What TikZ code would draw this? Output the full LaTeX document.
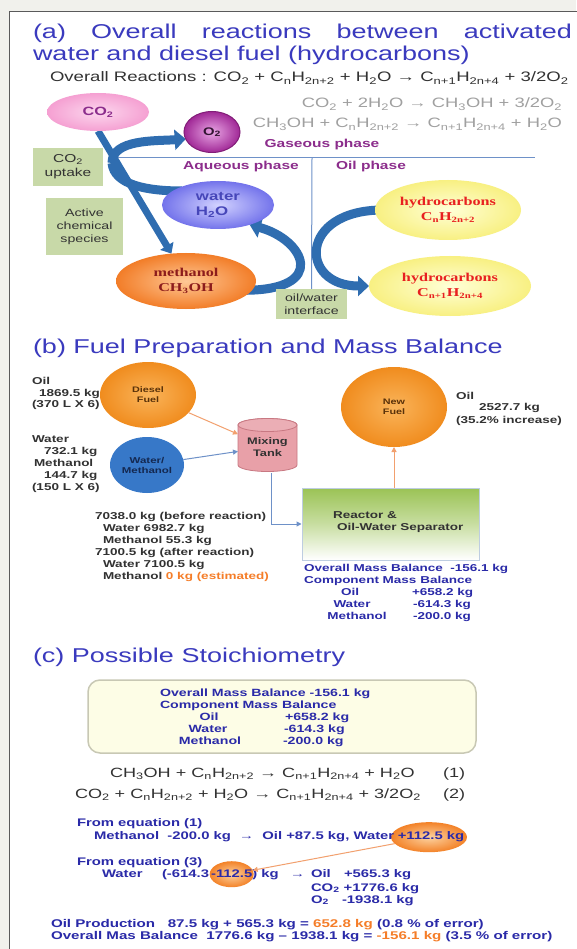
\documentclass[tikz,border=0pt]{standalone}
\usepackage{fontspec}
\setmainfont{Liberation Sans}[FakeStretch=1.35]
\newfontfamily\serifw{Liberation Serif}[FakeStretch=1.35]
\usetikzlibrary{arrows.meta,shapes.geometric,calc}
\pgfdeclarelayer{back}
\pgfdeclarelayer{mid}
\pgfsetlayers{back,mid,main}
\newcommand\chsub[1]{\textsubscript{#1}}
\newcommand\fsz[2]{\fontsize{#1}{#2}\selectfont}
\definecolor{bggray}{RGB}{241,241,236}
\definecolor{framegray}{RGB}{90,90,90}
\definecolor{ttlblue}{RGB}{58,58,190}
\definecolor{mbblue}{RGB}{42,42,168}
\definecolor{purp}{RGB}{140,45,140}
\definecolor{arrblue}{RGB}{47,109,176}
\definecolor{grn}{RGB}{200,217,168}
\definecolor{grayeq}{RGB}{160,160,160}
\definecolor{dtext}{RGB}{50,50,50}
\definecolor{hcred}{RGB}{232,32,32}
\definecolor{methred}{RGB}{140,28,28}
\definecolor{orngtxt}{RGB}{245,125,40}
\definecolor{lineblue}{RGB}{110,145,200}
\definecolor{orline}{RGB}{242,160,110}
\definecolor{tankpink}{RGB}{232,160,168}
\definecolor{tankedge}{RGB}{200,120,130}
\definecolor{reactgrn}{RGB}{155,195,85}
\definecolor{reactedge}{RGB}{190,205,225}
\definecolor{boxyel}{RGB}{253,253,230}
\definecolor{boxedge}{RGB}{200,200,180}
\definecolor{pinkin}{RGB}{252,215,238}
\definecolor{pinkout}{RGB}{245,160,210}
\definecolor{o2in}{RGB}{232,165,228}
\definecolor{o2out}{RGB}{160,40,150}
\definecolor{o2edge}{RGB}{130,30,120}
\definecolor{o2txt}{RGB}{50,20,50}
\definecolor{watin}{RGB}{210,210,255}
\definecolor{watout}{RGB}{115,115,235}
\definecolor{wattxt}{RGB}{70,70,185}
\definecolor{methin}{RGB}{255,200,150}
\definecolor{methout}{RGB}{242,125,40}
\definecolor{hcin}{RGB}{255,255,215}
\definecolor{hcout}{RGB}{248,240,130}
\definecolor{orin}{RGB}{250,180,90}
\definecolor{orout}{RGB}{240,140,30}
\definecolor{wmblue}{RGB}{55,120,200}
\definecolor{navy}{RGB}{20,40,80}
\definecolor{brn}{RGB}{90,50,10}
\definecolor{elin}{RGB}{252,210,160}
\definecolor{elout}{RGB}{243,130,40}
\begin{document}
\begin{tikzpicture}[x=1pt,y=-1pt,
  lbl/.style={inner sep=0pt,outer sep=0pt},
  ttl/.style={lbl,anchor=base west,text=ttlblue,font=\fsz{20}{24}},
  eqgray/.style={lbl,anchor=base east,text=grayeq,font=\fsz{13.6}{16}},
  phase/.style={lbl,text=purp,font=\fsz{11.5}{14}\bfseries},
  grnbox/.style={fill=grn,draw=none,align=center,text=dtext,inner sep=0pt},
  bigarr/.style={draw=arrblue,line width=9pt,-{Triangle[length=11pt,width=20pt]}},
  band/.style={draw=arrblue,line width=9pt},
  blob/.style={ellipse,inner sep=0pt,outer sep=0pt,align=center},
  bsm/.style={lbl,anchor=base west,text=dtext,font=\fsz{10}{12}\bfseries},
  mb/.style={lbl,anchor=base west,text=mbblue,font=\fsz{10}{12}\bfseries},
  mbc/.style={lbl,anchor=base,text=mbblue,font=\fsz{10}{12}\bfseries},
  cb/.style={lbl,anchor=base west,text=mbblue,font=\fsz{10.5}{12}\bfseries},
  cbc/.style={lbl,anchor=base,text=mbblue,font=\fsz{10.5}{12}\bfseries},
  st/.style={lbl,anchor=base west,text=mbblue,font=\fsz{11}{13}\bfseries},
  eqc/.style={lbl,anchor=base west,text=dtext,font=\fsz{13.4}{16}},
  thinarr/.style={line width=1pt,-{Triangle[length=5pt,width=5pt]}},
  phline/.style={draw=lineblue,line width=1pt},
]
\useasboundingbox (0,0) rectangle (576,949);
\begin{pgfonlayer}{back}
\fill[bggray] (0,0) rectangle (576,949);
\fill[white] (9,12) rectangle (580,952);
\draw[framegray,line width=1pt] (9,952) -- (9,12) -- (580,12);
\end{pgfonlayer}

% ---------------- (a) ----------------
\node[ttl] (ta1) at (33,39) {\makebox[539pt][s]{(a) Overall reactions between activated}};
\node[ttl] (ta2) at (33,61) {water and diesel fuel (hydrocarbons)};
\node[lbl,anchor=base west,text=dtext,font=\fsz{13.75}{16}] (ovr) at (50,82)
  {Overall Reactions : CO\chsub{2} + C\chsub{n}H\chsub{2n+2} + H\chsub{2}O → C\chsub{n+1}H\chsub{2n+4} + 3/2O\chsub{2}};
\node[eqgray] (eqa) at (562,108) {CO\chsub{2} + 2H\chsub{2}O → CH\chsub{3}OH + 3/2O\chsub{2}};
\node[eqgray] (eqb) at (562,128) {CH\chsub{3}OH + C\chsub{n}H\chsub{2n+2} → C\chsub{n+1}H\chsub{2n+4} + H\chsub{2}O};

\node[grnbox,minimum width=70pt,minimum height=38pt,font=\fsz{11.5}{14}] (upt) at (68,167) {CO\chsub{2}\\uptake};
\node[grnbox,minimum width=77pt,minimum height=57pt,font=\fsz{10.5}{13}] (act) at (84.5,226.5) {Active\\chemical\\species};
\node[grnbox,minimum width=71pt,minimum height=30pt,font=\fsz{10.5}{13}] (ow) at (311.5,304) {oil/water\\interface};

\node[blob,minimum width=102pt,minimum height=38pt,shading=radial,inner color=pinkin,outer color=pinkout,text=purp,font=\fsz{12}{14}\bfseries] (co2) at (98,112) {CO\chsub{2}};
\node[blob,minimum width=56pt,minimum height=41pt,shading=radial,inner color=o2in,outer color=o2out,draw=o2edge,line width=1pt,text=o2txt,font=\fsz{11}{13}\bfseries] (o2) at (212,132) {O\chsub{2}};
\node[phase] (gas) at (322,145) {Gaseous phase};
\node[phase] (aq) at (241,167) {Aqueous phase};
\node[phase,anchor=west] (oilph) at (336,167) {Oil phase};

\node[blob,minimum width=112pt,minimum height=48pt,shading=radial,inner color=watin,outer color=watout,text=wattxt,font=\fsz{12.5}{15}\bfseries,align=left] (water) at (218,205) {water\\H\chsub{2}O};
\node[blob,minimum width=140pt,minimum height=56pt,shading=radial,inner color=methin,outer color=methout,text=methred,font=\serifw\fsz{12}{15}\bfseries] (meth) at (186,281) {methanol\\CH\chsub{3}OH};
\node[blob,minimum width=146pt,minimum height=60pt,shading=radial,inner color=hcin,outer color=hcout,text=hcred,font=\serifw\fsz{12}{15}\bfseries] (hca) at (448,210) {hydrocarbons\\C\chsub{n}H\chsub{2n+2}};
\node[blob,minimum width=162pt,minimum height=60pt,shading=radial,inner color=hcin,outer color=hcout,text=hcred,font=\serifw\fsz{12}{15}\bfseries] (hcb) at (450,286) {hydrocarbons\\C\chsub{n+1}H\chsub{2n+4}};

\coordinate (hl) at (118,158);
\coordinate (hr) at (535,158);
\coordinate (vt) at (312,158);
\coordinate (br) at (112,163);
\coordinate (wend) at ($(water.west)+(20,-14)$);
\begin{pgfonlayer}{mid}
\draw[phline] (hl) -- (hr);
\draw[phline] (vt) -- (ow.north);
\draw[draw=arrblue,line width=7pt,-{Triangle[length=9pt,width=15pt]}] (co2.south) -- (meth.118);
\draw[bigarr] (br) .. controls +(0,-24) and +(-30,2) .. (o2.195);
\draw[band] (br) .. controls +(2,22) and +(-35,0) .. (wend);
\draw[bigarr] ([xshift=-8pt]meth.-8) .. controls +(85,0) and +(55,15) .. (water.-32);
\draw[bigarr] ([xshift=8pt]hca.west) .. controls +(-85,0) and +(-70,0) .. (hcb.west);
\end{pgfonlayer}

% ---------------- (b) ----------------
\node[ttl] (tb) at (33,353) {(b) Fuel Preparation and Mass Balance};

\node[blob,minimum width=96pt,minimum height=66pt,shading=radial,inner color=orin,outer color=orout,text=brn,font=\fsz{8}{10}\bfseries] (diesel) at (148,395) {Diesel\\Fuel};
\node[blob,minimum width=74pt,minimum height=56pt,fill=wmblue,text=navy,font=\fsz{8.5}{10}\bfseries] (wm) at (147,465) {Water/\\Methanol};
\node[lbl,minimum width=59pt,minimum height=52pt,align=center,text=dtext,font=\fsz{9.5}{12}\bfseries] (tank) at (267.5,447) {Mixing\\Tank};
\node[blob,minimum width=106pt,minimum height=80pt,shading=radial,inner color=orin,outer color=orout,text=brn,font=\fsz{8}{10}\bfseries] (newf) at (394,407) {New\\Fuel};
\node[draw=reactedge,line width=1pt,minimum width=177pt,minimum height=72pt,top color=reactgrn,bottom color=white,middle color=reactgrn!55!white,inner sep=0pt] (reac) at (390.5,524) {};
\node[bsm] (r1) at (333,518) {Reactor \&};
\node[bsm] (r2) at (337,530) {Oil-Water Separator};

\begin{pgfonlayer}{mid}
\path[fill=tankpink,draw=tankedge,line width=0.8pt] (238,425) -- (238,465)
  arc[start angle=180,end angle=0,x radius=29.5,y radius=6.5] -- (297,425)
  arc[start angle=0,end angle=-180,x radius=29.5,y radius=6.5] -- cycle;
\draw[tankedge,line width=0.8pt,fill=tankpink!85!white] (267.5,425) ellipse[x radius=29.5,y radius=6.5];
\end{pgfonlayer}

\draw[orline,thinarr] (diesel) -- (tank);
\draw[lineblue,thinarr] (wm) -- (tank);
\draw[lineblue,thinarr] ([xshift=4pt]tank.south) |- (reac.west);
\draw[orline,thinarr] (reac.north -| newf.south) -- (newf.south);

\node[bsm] (o1) at (32,384) {Oil};
\node[bsm] (o2t) at (39,396) {1869.5 kg};
\node[bsm] (o3) at (32,407) {(370 L X 6)};
\node[bsm] (w1) at (32,442) {Water};
\node[bsm] (w2) at (44,454) {732.1 kg};
\node[bsm] (w3) at (34,466) {Methanol};
\node[bsm] (w4) at (44,478) {144.7 kg};
\node[bsm] (w5) at (32,490) {(150 L X 6)};

\node[bsm] (n1) at (456,399) {Oil};
\node[bsm] (n2) at (479,410) {2527.7 kg};
\node[bsm] (n3) at (456,423) {(35.2\% increase)};

\node[bsm] (k1) at (95,519) {7038.0 kg (before reaction)};
\node[bsm] (k2) at (103,531) {Water 6982.7 kg};
\node[bsm] (k3) at (103,543) {Methanol 55.3 kg};
\node[bsm] (k4) at (95,555) {7100.5 kg (after reaction)};
\node[bsm] (k5) at (103,567) {Water 7100.5 kg};
\node[bsm] (k6) at (103,579) {Methanol \textcolor{orngtxt}{0 kg (estimated)}};

\node[mb] (b1) at (304,571) {Overall Mass Balance \ -156.1 kg};
\node[mb] (b2) at (304,583) {Component Mass Balance};
\node[mbc] (b3) at (350,595) {Oil};
\node[mb] (b3v) at (412,595) {+658.2 kg};
\node[mbc] (b4) at (352,607) {Water};
\node[mb] (b4v) at (413,607) {-614.3 kg};
\node[mbc] (b5) at (357,619) {Methanol};
\node[mb] (b5v) at (413,619) {-200.0 kg};

% ---------------- (c) ----------------
\node[ttl] (tc) at (33,662) {(c) Possible Stoichiometry};
\node[draw=boxedge,line width=1.5pt,fill=boxyel,rounded corners=12pt,minimum width=388pt,minimum height=73pt,inner sep=0pt] (mbox) at (282,716.5) {};
\node[cb] (c1) at (160,696) {Overall Mass Balance -156.1 kg};
\node[cb] (c2) at (160,708) {Component Mass Balance};
\node[cbc] (c3) at (209,720) {Oil};
\node[cb] (c3v) at (285,720) {+658.2 kg};
\node[cbc] (c4) at (208,732) {Water};
\node[cb] (c4v) at (284,732) {-614.3 kg};
\node[cbc] (c5) at (210,744) {Methanol};
\node[cb] (c5v) at (283,744) {-200.0 kg};

\node[eqc] (e1) at (110,777) {CH\chsub{3}OH + C\chsub{n}H\chsub{2n+2} → C\chsub{n+1}H\chsub{2n+4} + H\chsub{2}O};
\node[eqc] (e1n) at (443,777) {(1)};
\node[eqc] (e2) at (75,798) {CO\chsub{2} + C\chsub{n}H\chsub{2n+2} + H\chsub{2}O → C\chsub{n+1}H\chsub{2n+4} + 3/2O\chsub{2}};
\node[eqc] (e2n) at (443,798) {(2)};

\node[st] (f1) at (77,826) {From equation (1)};
\node[st] (m1) at (94,839) {Methanol \ -200.0 kg \ → \ Oil +87.5 kg, Water};
\node[st,anchor=base west] (m2) at ([xshift=3.5pt]m1.base east) {+112.5 kg};
\node[st] (f3) at (77,865) {From equation (3)};
\node[st] (x1) at (102,877) {Water};
\node[st] (x2) at (162,877) {(-614.3};
\node[st,anchor=base west] (x3) at ([xshift=2pt]x2.base east) {-112.5};
\node[st,anchor=base west] (x4) at (x3.base east) {) kg};
\node[st] (x5) at (290,877) {→};
\node[st] (x6) at (311,877) {Oil};
\node[st] (x7) at (344,877) {+565.3 kg};
\node[st] (y1) at (311,891) {CO\chsub{2} +1776.6 kg};
\node[st] (y2) at (311,903) {O\chsub{2}};
\node[st] (y3) at (342,903) {-1938.1 kg};

\begin{pgfonlayer}{mid}
\node[blob,minimum width=76pt,minimum height=30pt,shading=radial,inner color=elin,outer color=elout] (bigE) at ([xshift=-2pt,yshift=-1pt]m2.center) {};
\node[blob,minimum width=44pt,minimum height=26pt,shading=radial,inner color=elin,outer color=elout] (smallE) at ([yshift=-1pt]x3.center) {};
\end{pgfonlayer}
\draw[orline,thinarr] (bigE) -- (smallE);

\node[lbl,anchor=base west,text=mbblue,font=\fsz{11.2}{13}\bfseries] (p1) at (51,927)
  {Oil Production \ \ 87.5 kg + 565.3 kg = \textcolor{orngtxt}{652.8 kg} (0.8 \% of error)};
\node[lbl,anchor=base west,text=mbblue,font=\fsz{11.2}{13}\bfseries] (p2) at (51,939)
  {Overall Mas Balance \ 1776.6 kg – 1938.1 kg = \textcolor{orngtxt}{-156.1 kg} (3.5 \% of error)};
\end{tikzpicture}
\end{document}
